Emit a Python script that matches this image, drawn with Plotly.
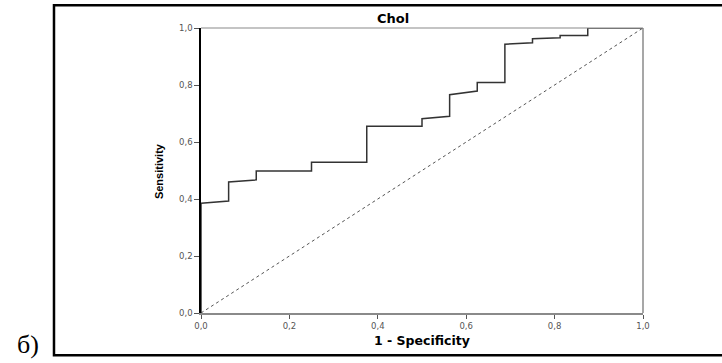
import plotly.graph_objects as go

# ROC curve points (1 - Specificity, Sensitivity)
fpr = [0.0, 0.0, 0.0625, 0.0625, 0.125, 0.125, 0.25, 0.25, 0.375, 0.375, 0.5, 0.5,
       0.5625, 0.5625, 0.625, 0.625, 0.6875, 0.6875, 0.75, 0.75, 0.8125, 0.8125,
       0.875, 0.875, 1.0]
tpr = [0.0, 0.385, 0.393, 0.46, 0.467, 0.498, 0.498, 0.529, 0.529, 0.655, 0.655, 0.682,
       0.69, 0.766, 0.779, 0.809, 0.809, 0.943, 0.948, 0.962, 0.966, 0.974,
       0.974, 1.0, 1.0]
ref_x = [0.0, 1.0]
ref_y = [0.0, 1.0]
tick_vals = [0.0, 0.2, 0.4, 0.6, 0.8, 1.0]

title_text = "Chol"
x_title = "1 - Specificity"
y_title = "Sensitivity"
panel_label = "б)"

fig = go.Figure()
fig.add_trace(go.Scatter(x=ref_x, y=ref_y, mode="lines",
                         line=dict(color="#555555", width=1, dash="dot"),
                         showlegend=False, hoverinfo="skip"))
fig.add_trace(go.Scatter(x=fpr, y=tpr, mode="lines",
                         line=dict(color="#333333", width=1.5),
                         showlegend=False))

tick_font = dict(family="DejaVu Sans, Liberation Sans, sans-serif", size=8.5, color="#555555")

fig.update_layout(
    width=722, height=363,
    margin=dict(l=201, r=79, t=28, b=50),
    paper_bgcolor="white", plot_bgcolor="white",
    separators=",.",
    xaxis=dict(range=[0, 1], tickvals=tick_vals, tickformat=".1f",
               showgrid=False, zeroline=False, showline=True,
               linecolor="#8a8a8a", linewidth=1.5,
               ticks="outside", ticklen=4, tickcolor="#555555", tickwidth=1,
               tickfont=tick_font),
    yaxis=dict(range=[0, 1], tickvals=tick_vals, tickformat=".1f",
               showgrid=False, zeroline=False, showline=True,
               linecolor="black", linewidth=1.5,
               ticks="outside", ticklen=5, tickcolor="#555555", tickwidth=1,
               tickfont=tick_font),
    shapes=[
        # top and right frame of plot area
        dict(type="line", xref="paper", yref="paper", x0=0, x1=1, y0=1, y1=1,
             line=dict(color="#8a8a8a", width=1.2)),
        dict(type="line", xref="paper", yref="paper", x0=1, x1=1, y0=0, y1=1,
             line=dict(color="#8a8a8a", width=1.5)),
        # outer box
        dict(type="rect", xref="paper", yref="paper",
             x0=-0.3326, x1=1.19, y0=-0.148, y1=1.08,
             line=dict(color="black", width=2.5), fillcolor="rgba(0,0,0,0)"),
    ],
    annotations=[
        dict(text="<b>" + title_text + "</b>", xref="paper", yref="paper",
             x=0.434, y=1.0, yanchor="bottom", xanchor="center", showarrow=False,
             yshift=0,
             font=dict(family="DejaVu Sans, Liberation Sans, sans-serif", size=13, color="black")),
        dict(text="<b>" + x_title + "</b>", xref="paper", yref="paper",
             x=0.5, y=-0.095, xanchor="center", yanchor="middle", showarrow=False,
             font=dict(family="DejaVu Sans, Liberation Sans, sans-serif", size=12.5, color="black")),
        dict(text="<b>" + y_title + "</b>", xref="paper", yref="paper",
             x=-0.095, y=0.498, xanchor="center", yanchor="middle", showarrow=False,
             textangle=-90,
             font=dict(family="Liberation Sans Narrow, Arial Narrow, Liberation Sans, sans-serif",
                       size=11, color="black")),
        dict(text=panel_label, xref="paper", yref="paper",
             x=-0.391, y=-0.109, xanchor="center", yanchor="middle", showarrow=False,
             font=dict(family="Liberation Serif, Times New Roman, serif", size=26, color="black")),
    ],
)

fig.write_html("out.html")
